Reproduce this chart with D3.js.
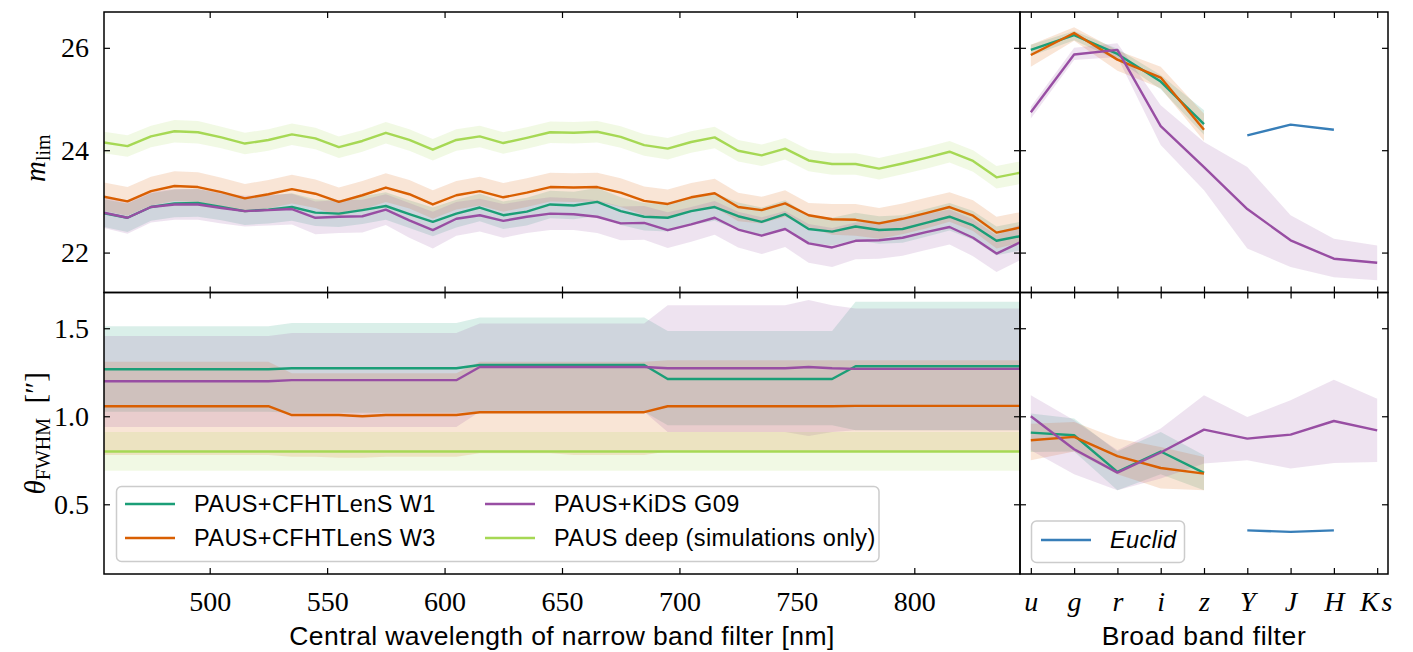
<!DOCTYPE html>
<html>
<head>
<meta charset="utf-8">
<script src="https://cdn.jsdelivr.net/npm/d3@7"></script>
<style>
  body { margin: 0; background: #fff; }
  svg text { fill: #000; }
</style>
</head>
<body>
<svg id="fig" width="1413" height="652"></svg>
<script>
// ---------------- data ----------------
const nbWavelength = [455,465,475,485,495,505,515,525,535,545,555,565,575,585,595,605,615,625,635,645,
                      655,665,675,685,695,705,715,725,735,745,755,765,775,785,795,805,815,825,835,845];

// limiting magnitude per narrow band
const mlimW1 = [22.77,22.68,22.89,22.96,22.97,22.89,22.81,22.84,22.89,22.78,22.76,22.83,22.91,22.75,22.60,22.76,22.88,22.73,22.80,22.94,
                22.92,22.99,22.81,22.70,22.68,22.81,22.89,22.71,22.60,22.75,22.46,22.41,22.51,22.44,22.46,22.58,22.70,22.53,22.23,22.32];
const mlimW3 = [23.09,23.00,23.20,23.30,23.28,23.18,23.06,23.14,23.24,23.15,22.99,23.12,23.27,23.14,22.94,23.12,23.20,23.08,23.17,23.28,
                23.27,23.28,23.17,23.01,22.95,23.08,23.16,22.89,22.83,22.96,22.73,22.65,22.64,22.57,22.66,22.77,22.89,22.72,22.39,22.49];
const mlimG09 = [22.78,22.68,22.89,22.94,22.94,22.87,22.81,22.83,22.85,22.68,22.70,22.71,22.84,22.63,22.44,22.66,22.73,22.62,22.70,22.76,
                 22.75,22.70,22.57,22.58,22.44,22.55,22.68,22.45,22.33,22.46,22.18,22.10,22.23,22.24,22.29,22.40,22.50,22.29,21.98,22.20];
const mlimDeep = [24.15,24.08,24.27,24.37,24.35,24.25,24.13,24.20,24.31,24.23,24.06,24.18,24.34,24.20,24.01,24.20,24.27,24.14,24.24,24.35,
                  24.34,24.36,24.26,24.10,24.03,24.16,24.25,23.99,23.90,24.03,23.80,23.73,23.73,23.64,23.74,23.85,23.97,23.79,23.47,23.56];

// scatter of the limiting magnitude (half width of the shaded band)
const mlimErrW1 = [0.27,0.28,0.27,0.27,0.27,0.26,0.27,0.27,0.27,0.26,0.26,0.27,0.27,0.27,0.28,0.27,0.27,0.27,0.27,0.27,
                   0.27,0.27,0.27,0.27,0.27,0.27,0.27,0.27,0.28,0.27,0.27,0.27,0.27,0.27,0.27,0.27,0.27,0.28,0.28,0.28];
const mlimErrW3 = [0.28,0.28,0.28,0.29,0.29,0.28,0.28,0.28,0.28,0.28,0.28,0.28,0.28,0.28,0.28,0.28,0.28,0.28,0.28,0.28,
                   0.28,0.28,0.28,0.28,0.28,0.28,0.28,0.28,0.26,0.26,0.24,0.30,0.31,0.30,0.30,0.30,0.29,0.30,0.31,0.30];
const mlimErrG09 = [0.30,0.31,0.30,0.30,0.30,0.30,0.30,0.30,0.30,0.32,0.32,0.32,0.30,0.34,0.36,0.33,0.32,0.33,0.32,0.32,
                    0.31,0.32,0.33,0.33,0.35,0.34,0.33,0.35,0.36,0.35,0.38,0.38,0.36,0.36,0.35,0.35,0.34,0.36,0.36,0.35];
const mlimErrDeep = [0.21,0.21,0.21,0.22,0.22,0.21,0.21,0.21,0.21,0.21,0.21,0.21,0.21,0.21,0.21,0.21,0.21,0.21,0.21,0.21,
                     0.21,0.21,0.21,0.21,0.21,0.21,0.21,0.21,0.21,0.21,0.21,0.21,0.21,0.21,0.21,0.21,0.21,0.21,0.22,0.22];

// seeing per narrow band (median and 16/84 percentiles)
const seeW1   = [1.267,1.267,1.267,1.267,1.267,1.267,1.267,1.267,1.273,1.273,1.273,1.273,1.273,1.273,1.273,1.273,1.291,1.291,1.291,1.291,
                 1.291,1.291,1.291,1.291,1.212,1.212,1.212,1.212,1.212,1.212,1.212,1.212,1.284,1.284,1.284,1.284,1.284,1.284,1.284,1.284];
const seeW1Lo = [1.025,1.025,1.025,1.025,1.025,1.025,1.025,1.025,1.020,1.020,1.020,1.020,1.020,1.020,1.020,1.020,1.025,1.025,1.025,1.025,
                 1.025,1.025,1.025,1.025,0.949,0.949,0.949,0.949,0.949,0.949,0.949,0.949,0.920,0.920,0.920,0.920,0.920,0.920,0.920,0.920];
const seeW1Hi = [1.511,1.511,1.511,1.511,1.511,1.511,1.511,1.511,1.530,1.530,1.530,1.530,1.530,1.530,1.530,1.530,1.561,1.561,1.561,1.561,
                 1.561,1.561,1.561,1.561,1.485,1.485,1.485,1.485,1.485,1.485,1.485,1.485,1.650,1.650,1.650,1.650,1.650,1.650,1.650,1.650];
const seeW3   = [1.057,1.057,1.057,1.057,1.057,1.057,1.057,1.057,1.007,1.007,1.007,1.000,1.007,1.007,1.007,1.007,1.023,1.023,1.023,1.023,
                 1.023,1.023,1.023,1.023,1.057,1.057,1.057,1.057,1.057,1.057,1.057,1.057,1.059,1.059,1.059,1.059,1.059,1.059,1.059,1.059];
const seeW3Lo = [0.780,0.780,0.780,0.780,0.780,0.780,0.780,0.780,0.770,0.770,0.765,0.765,0.770,0.770,0.770,0.770,0.790,0.790,0.790,0.790,
                 0.780,0.780,0.780,0.780,0.800,0.800,0.800,0.800,0.800,0.800,0.800,0.800,0.800,0.800,0.800,0.800,0.800,0.800,0.800,0.800];
const seeW3Hi = [1.309,1.309,1.309,1.309,1.309,1.309,1.309,1.309,1.245,1.245,1.245,1.245,1.245,1.245,1.245,1.245,1.309,1.309,1.309,1.309,
                 1.309,1.309,1.309,1.309,1.318,1.318,1.318,1.318,1.318,1.318,1.318,1.318,1.318,1.318,1.318,1.318,1.318,1.318,1.318,1.318];
const seeG09   = [1.199,1.199,1.199,1.199,1.199,1.199,1.199,1.199,1.205,1.205,1.205,1.205,1.205,1.205,1.205,1.205,1.280,1.280,1.280,1.280,
                  1.280,1.280,1.280,1.280,1.273,1.273,1.273,1.273,1.273,1.273,1.280,1.273,1.269,1.269,1.269,1.269,1.269,1.269,1.269,1.269];
const seeG09Lo = [0.939,0.939,0.939,0.939,0.939,0.939,0.939,0.939,0.939,0.939,0.939,0.939,0.939,0.939,0.939,0.939,1.025,1.025,1.025,1.025,
                  1.025,1.025,1.025,1.025,0.911,0.911,0.911,0.911,0.911,0.911,0.888,0.911,0.920,0.920,0.920,0.920,0.920,0.920,0.920,0.920];
const seeG09Hi = [1.456,1.456,1.456,1.456,1.456,1.456,1.456,1.456,1.473,1.473,1.473,1.473,1.473,1.473,1.473,1.473,1.527,1.527,1.527,1.527,
                  1.527,1.527,1.527,1.527,1.630,1.630,1.630,1.630,1.630,1.630,1.660,1.630,1.612,1.612,1.612,1.612,1.612,1.612,1.612,1.612];
const seeDeep   = [0.80,0.80,0.80,0.80,0.80,0.80,0.80,0.80,0.80,0.80,0.80,0.80,0.80,0.80,0.80,0.80,0.80,0.80,0.80,0.80,
                   0.80,0.80,0.80,0.80,0.80,0.80,0.80,0.80,0.80,0.80,0.80,0.80,0.80,0.80,0.80,0.80,0.80,0.80,0.80,0.80];
const seeDeepLo = [0.69,0.69,0.69,0.69,0.69,0.69,0.69,0.69,0.69,0.69,0.69,0.69,0.69,0.69,0.69,0.69,0.69,0.69,0.69,0.69,
                   0.69,0.69,0.69,0.69,0.69,0.69,0.69,0.69,0.69,0.69,0.69,0.69,0.69,0.69,0.69,0.69,0.69,0.69,0.69,0.69];
const seeDeepHi = [0.91,0.91,0.91,0.91,0.91,0.91,0.91,0.91,0.91,0.91,0.91,0.91,0.91,0.91,0.91,0.91,0.91,0.91,0.91,0.91,
                   0.91,0.91,0.91,0.91,0.91,0.91,0.91,0.91,0.91,0.91,0.91,0.91,0.91,0.91,0.91,0.91,0.91,0.91,0.91,0.91];

// broad bands
const broadBands = ["u","g","r","i","z","Y","J","H","Ks"];
const bbMlimW1    = [25.96,26.25,25.88,25.34,24.51,null,null,null,null];
const bbMlimW1Lo  = [25.84,26.15,25.76,25.19,24.30,null,null,null,null];
const bbMlimW1Hi  = [26.06,26.33,25.98,25.47,24.78,null,null,null,null];
const bbMlimW3    = [25.86,26.29,25.77,25.42,24.40,null,null,null,null];
const bbMlimW3Lo  = [25.63,26.14,25.55,25.21,24.18,null,null,null,null];
const bbMlimW3Hi  = [26.06,26.40,25.95,25.63,24.71,null,null,null,null];
const bbMlimG09   = [24.74,25.87,25.96,24.47,23.67,22.85,22.24,21.88,21.80];
const bbMlimG09Lo = [24.62,25.76,25.82,24.10,23.22,22.08,21.72,21.52,21.46];
const bbMlimG09Hi = [24.85,26.00,26.09,24.88,24.16,23.67,22.73,22.27,22.14];
const bbMlimEuclid = [null,null,null,null,null,24.29,24.50,24.40,null];

const bbSeeW1    = [0.907,0.892,0.684,0.800,0.678,null,null,null,null];
const bbSeeW1Lo  = [0.797,0.800,0.580,0.670,0.580,null,null,null,null];
const bbSeeW1Hi  = [1.015,0.987,0.800,0.911,0.778,null,null,null,null];
const bbSeeW3    = [0.864,0.883,0.774,0.706,0.674,null,null,null,null];
const bbSeeW3Lo  = [0.750,0.800,0.670,0.589,0.580,null,null,null,null];
const bbSeeW3Hi  = [0.958,0.968,0.873,0.826,0.769,null,null,null,null];
const bbSeeG09   = [1.000,0.813,0.680,0.794,0.924,0.873,0.896,0.973,0.920];
const bbSeeG09Lo = [0.807,0.670,0.580,0.646,0.731,0.750,0.703,0.735,0.740];
const bbSeeG09Hi = [1.119,0.977,0.807,0.930,1.119,0.996,1.091,1.208,1.100];
const bbSeeEuclid = [null,null,null,null,null,0.352,0.343,0.352,null];

const nbTicks = [500,550,600,650,700,750,800];
const mlimTicks = [22,24,26];
const seeTicks = [0.5,1.0,1.5];

const colW1 = "#1b9e77", colW3 = "#d95f02", colG09 = "#984ea3", colDeep = "#a6d854", colEuclid = "#377eb8";

// ---------------- layout ----------------
const svg = d3.select("#fig");
const L = {x0: 104, x1: 1020}, R = {x0: 1020, x1: 1388};
const T = {y0: 12, y1: 292.5}, B = {y0: 292.5, y1: 574};

const xNB = d3.scaleLinear().domain([455, 845]).range([L.x0, L.x1]);
const xBB = d3.scaleLinear().domain([-0.25, 8.25]).range([R.x0, R.x1]);
const yM  = d3.scaleLinear().domain([21.22, 26.7]).range([T.y1, T.y0]);
const yS  = d3.scaleLinear().domain([0.104, 1.703]).range([B.y1, B.y0]);

const serif = "'Liberation Serif', 'DejaVu Serif', serif";
const sans = "'Liberation Sans', 'DejaVu Sans', sans-serif";

function clipFor(id, x0, x1, y0, y1) {
  svg.append("clipPath").attr("id", id).append("rect")
    .attr("x", x0).attr("y", y0).attr("width", x1 - x0).attr("height", y1 - y0);
  return "url(#" + id + ")";
}

function drawSeries(g, xs, xScale, yScale, mid, lo, hi, color) {
  const pts = xs.map((x, i) => ({x, m: mid[i], lo: lo ? lo[i] : null, hi: hi ? hi[i] : null}));
  if (lo && hi) {
    const area = d3.area()
      .defined(d => d.lo != null && d.hi != null)
      .x(d => xScale(d.x)).y0(d => yScale(d.lo)).y1(d => yScale(d.hi));
    g.append("path").datum(pts).attr("d", area)
      .attr("fill", color).attr("fill-opacity", 0.16).attr("stroke", "none");
  }
  return () => {
    const line = d3.line().defined(d => d.m != null).x(d => xScale(d.x)).y(d => yScale(d.m));
    g.append("path").datum(pts).attr("d", line)
      .attr("fill", "none").attr("stroke", color).attr("stroke-width", 2.4)
      .attr("stroke-linejoin", "round");
  };
}

function panel(id, x0, x1, y0, y1, xs, xScale, yScale, list) {
  const g = svg.append("g").attr("clip-path", clipFor(id, x0, x1, y0, y1));
  const lineDrawers = list.map(s => drawSeries(g, xs, xScale, yScale, s[0], s[1], s[2], s[3]));
  lineDrawers.forEach(f => f());
}

const bbIdx = broadBands.map((b, i) => i);
const sNbM = [[mlimW1, mlimW1.map((v,i)=>v-mlimErrW1[i]), mlimW1.map((v,i)=>v+mlimErrW1[i]), colW1],
              [mlimW3, mlimW3.map((v,i)=>v-mlimErrW3[i]), mlimW3.map((v,i)=>v+mlimErrW3[i]), colW3],
              [mlimG09, mlimG09.map((v,i)=>v-mlimErrG09[i]), mlimG09.map((v,i)=>v+mlimErrG09[i]), colG09],
              [mlimDeep, mlimDeep.map((v,i)=>v-mlimErrDeep[i]), mlimDeep.map((v,i)=>v+mlimErrDeep[i]), colDeep]];
panel("cTL", L.x0, L.x1, T.y0, T.y1, nbWavelength, xNB, yM, sNbM);

panel("cTR", R.x0, R.x1, T.y0, T.y1, bbIdx, xBB, yM, [
  [bbMlimW1, bbMlimW1Lo, bbMlimW1Hi, colW1],
  [bbMlimW3, bbMlimW3Lo, bbMlimW3Hi, colW3],
  [bbMlimG09, bbMlimG09Lo, bbMlimG09Hi, colG09],
  [bbMlimEuclid, null, null, colEuclid]]);

panel("cBL", L.x0, L.x1, B.y0, B.y1, nbWavelength, xNB, yS, [
  [seeW1, seeW1Lo, seeW1Hi, colW1],
  [seeW3, seeW3Lo, seeW3Hi, colW3],
  [seeG09, seeG09Lo, seeG09Hi, colG09],
  [seeDeep, seeDeepLo, seeDeepHi, colDeep]]);

panel("cBR", R.x0, R.x1, B.y0, B.y1, bbIdx, xBB, yS, [
  [bbSeeW1, bbSeeW1Lo, bbSeeW1Hi, colW1],
  [bbSeeW3, bbSeeW3Lo, bbSeeW3Hi, colW3],
  [bbSeeG09, bbSeeG09Lo, bbSeeG09Hi, colG09],
  [bbSeeEuclid, null, null, colEuclid]]);

// ---------------- axes ----------------
const TICK = 6;
function styleAxis(sel, fontFamily, fontSize, italic) {
  sel.select(".domain").remove();
  sel.selectAll(".tick line").attr("stroke", "#000").attr("stroke-width", 1.2);
  sel.selectAll(".tick text").attr("font-family", fontFamily).attr("font-size", fontSize)
     .attr("font-style", italic ? "italic" : "normal").attr("fill", "#000");
}
function axes(x0, x1, y0, y1, xScale, xTicks, xFmt, yScale, yTicks, yFmt, showX, showY, xFont, xItalic) {
  const bottom = svg.append("g").attr("transform", `translate(0,${y1})`)
    .call(d3.axisBottom(xScale).tickValues(xTicks).tickSizeInner(-TICK).tickSizeOuter(0)
      .tickPadding(17).tickFormat(showX ? xFmt : ""));
  styleAxis(bottom, xFont, 28, xItalic);
  const top = svg.append("g").attr("transform", `translate(0,${y0})`)
    .call(d3.axisTop(xScale).tickValues(xTicks).tickSizeInner(-TICK).tickSizeOuter(0).tickFormat(""));
  styleAxis(top, serif, 28, false);
  const left = svg.append("g").attr("transform", `translate(${x0},0)`)
    .call(d3.axisLeft(yScale).tickValues(yTicks).tickSizeInner(-TICK).tickSizeOuter(0)
      .tickPadding(15).tickFormat(showY ? yFmt : ""));
  styleAxis(left, serif, 28, false);
  const right = svg.append("g").attr("transform", `translate(${x1},0)`)
    .call(d3.axisRight(yScale).tickValues(yTicks).tickSizeInner(-TICK).tickSizeOuter(0).tickFormat(""));
  styleAxis(right, serif, 28, false);
  svg.append("rect").attr("x", x0).attr("y", y0).attr("width", x1 - x0).attr("height", y1 - y0)
    .attr("fill", "none").attr("stroke", "#000").attr("stroke-width", 1.5);
}
const fmtInt = d3.format("d"), fmtOne = d3.format(".1f");
const bbFmt = i => broadBands[i];
axes(L.x0, L.x1, T.y0, T.y1, xNB, nbTicks, fmtInt, yM, mlimTicks, fmtInt, false, true, serif, false);
axes(R.x0, R.x1, T.y0, T.y1, xBB, bbIdx, bbFmt, yM, mlimTicks, fmtInt, false, false, serif, true);
axes(L.x0, L.x1, B.y0, B.y1, xNB, nbTicks, fmtInt, yS, seeTicks, fmtOne, true, true, serif, false);
axes(R.x0, R.x1, B.y0, B.y1, xBB, bbIdx, bbFmt, yS, seeTicks, fmtOne, true, false, serif, true);
// the two-letter band name is set as separate math italics
svg.selectAll(".tick text").filter(function() { return this.textContent === "Ks"; })
  .attr("letter-spacing", 3);

// ---------------- axis titles ----------------
svg.append("text").attr("x", (L.x0 + L.x1) / 2).attr("y", 645).attr("text-anchor", "middle")
  .attr("font-family", sans).attr("font-size", 26.5).attr("letter-spacing", 0.4)
  .text("Central wavelength of narrow band filter [nm]");
svg.append("text").attr("x", (R.x0 + R.x1) / 2).attr("y", 645).attr("text-anchor", "middle")
  .attr("font-family", sans).attr("font-size", 26.5).attr("letter-spacing", 0.6)
  .text("Broad band filter");

const ylab1 = svg.append("text").attr("transform", `translate(45,${(T.y0 + T.y1) / 2 + 6}) rotate(-90)`)
  .attr("text-anchor", "middle").attr("font-family", serif).attr("font-size", 29);
ylab1.append("tspan").attr("font-style", "italic").text("m");
ylab1.append("tspan").attr("font-size", 20).attr("dy", 5).text("lim");

const ylab2 = svg.append("text").attr("transform", `translate(45,${(B.y0 + B.y1) / 2}) rotate(-90)`)
  .attr("text-anchor", "middle").attr("font-family", serif).attr("font-size", 29);
ylab2.append("tspan").attr("font-style", "italic").text("θ");
ylab2.append("tspan").attr("font-size", 20).attr("dy", 5).text("FWHM");
ylab2.append("tspan").attr("dy", -5).text("\u2002[\u2033]");

// ---------------- legends ----------------
function legendBox(x, y, w, h) {
  svg.append("rect").attr("x", x).attr("y", y).attr("width", w).attr("height", h)
    .attr("rx", 5).attr("fill", "#fff").attr("fill-opacity", 0.8)
    .attr("stroke", "#cccccc").attr("stroke-width", 1.5);
}
function legendItem(x, y, color, label, italic) {
  svg.append("line").attr("x1", x).attr("x2", x + 50).attr("y1", y).attr("y2", y)
    .attr("stroke", color).attr("stroke-width", 2.4);
  svg.append("text").attr("x", x + 69).attr("y", y).attr("dy", "0.36em")
    .attr("font-family", sans).attr("font-size", 23.5).attr("letter-spacing", 0.4)
    .attr("font-style", italic ? "italic" : "normal").text(label);
}
legendBox(116.5, 486.5, 762.5, 75);
legendItem(125, 504, colW1, "PAUS+CFHTLenS W1");
legendItem(125, 538, colW3, "PAUS+CFHTLenS W3");
legendItem(485, 504, colG09, "PAUS+KiDS G09");
legendItem(485, 538, colDeep, "PAUS deep (simulations only)");

legendBox(1031.5, 521, 153, 41.5);
legendItem(1041, 540, colEuclid, "Euclid", true);
</script>
</body>
</html>
